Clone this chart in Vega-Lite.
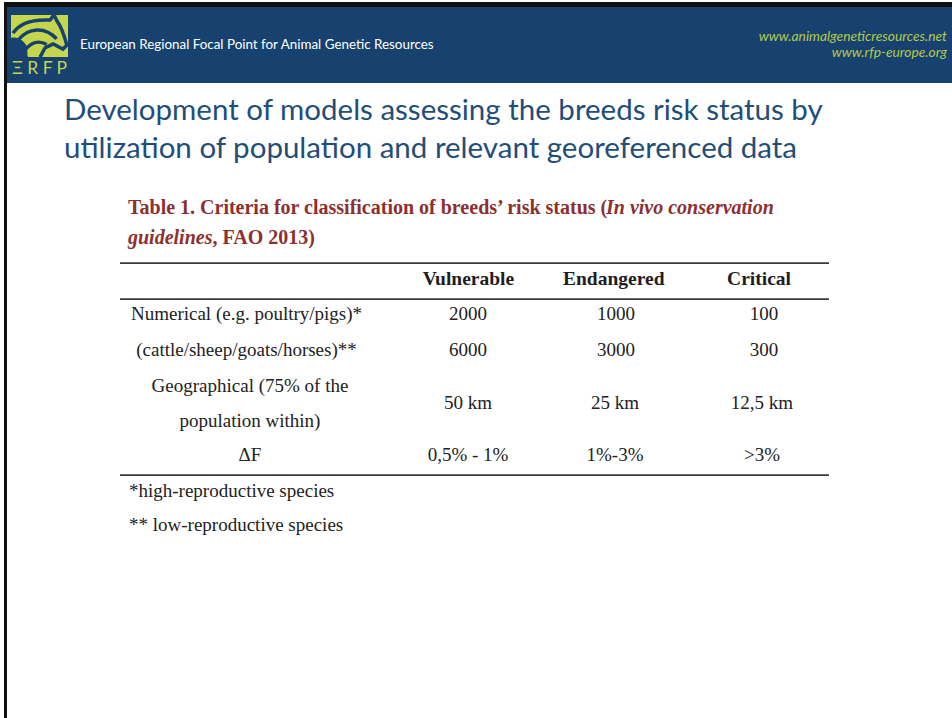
{
  "$schema": "https://vega.github.io/schema/vega-lite/v6.json",
  "width": 952,
  "height": 718,
  "autosize": "none",
  "padding": 0,
  "background": "white",
  "config": {"view": {"stroke": null}, "scale": {"pointPadding": 0}},
  "datasets": {
    "table": [
      {"criterion": "Numerical (e.g. poultry/pigs)*", "status": "Vulnerable", "threshold": "2000"},
      {"criterion": "Numerical (e.g. poultry/pigs)*", "status": "Endangered", "threshold": "1000"},
      {"criterion": "Numerical (e.g. poultry/pigs)*", "status": "Critical", "threshold": "100"},
      {"criterion": "(cattle/sheep/goats/horses)**", "status": "Vulnerable", "threshold": "6000"},
      {"criterion": "(cattle/sheep/goats/horses)**", "status": "Endangered", "threshold": "3000"},
      {"criterion": "(cattle/sheep/goats/horses)**", "status": "Critical", "threshold": "300"},
      {"criterion": "Geographical (75% of the\npopulation within)", "status": "Vulnerable", "threshold": "50 km"},
      {"criterion": "Geographical (75% of the\npopulation within)", "status": "Endangered", "threshold": "25 km"},
      {"criterion": "Geographical (75% of the\npopulation within)", "status": "Critical", "threshold": "12,5 km"},
      {"criterion": "ΔF", "status": "Vulnerable", "threshold": "0,5% - 1%"},
      {"criterion": "ΔF", "status": "Endangered", "threshold": "1%-3%"},
      {"criterion": "ΔF", "status": "Critical", "threshold": ">3%"}
    ]
  },
  "resolve": {"scale": {"x": "independent", "y": "independent"}},
  "layer": [
    {
      "data": {"values": [{"part": "frame"}]},
      "mark": {"type": "rect", "color": "#111111"},
      "encoding": {
        "x": {"field": "part", "type": "nominal", "scale": {"type": "band", "range": [4, 952], "paddingInner": 0, "paddingOuter": 0}, "axis": null},
        "y": {"field": "part", "type": "nominal", "scale": {"type": "band", "range": [2, 718], "paddingInner": 0, "paddingOuter": 0}, "axis": null}
      }
    },
    {
      "data": {"values": [{"part": "page"}]},
      "mark": {"type": "rect", "color": "#ffffff"},
      "encoding": {
        "x": {"field": "part", "type": "nominal", "scale": {"type": "band", "range": [7, 952], "paddingInner": 0, "paddingOuter": 0}, "axis": null},
        "y": {"field": "part", "type": "nominal", "scale": {"type": "band", "range": [83, 718], "paddingInner": 0, "paddingOuter": 0}, "axis": null}
      }
    },
    {
      "data": {"values": [{"part": "banner"}]},
      "mark": {"type": "rect", "color": "#17426f"},
      "encoding": {
        "x": {"field": "part", "type": "nominal", "scale": {"type": "band", "range": [7, 952], "paddingInner": 0, "paddingOuter": 0}, "axis": null},
        "y": {"field": "part", "type": "nominal", "scale": {"type": "band", "range": [7, 83], "paddingInner": 0, "paddingOuter": 0}, "axis": null}
      }
    },
    {
      "data": {"values": [{"part": "logo"}]},
      "mark": {"type": "rect", "color": "#c6d64c"},
      "encoding": {
        "x": {"field": "part", "type": "nominal", "scale": {"type": "band", "range": [11, 68], "paddingInner": 0, "paddingOuter": 0}, "axis": null},
        "y": {"field": "part", "type": "nominal", "scale": {"type": "band", "range": [15, 57], "paddingInner": 0, "paddingOuter": 0}, "axis": null}
      }
    },
    {
      "data": {"values": [{"part": "logo sheep"}]},
      "mark": {"type": "point", "filled": true, "color": "#17426f", "opacity": 1, "size": 3249, "shape": "M-1,0.07 C-0.8,0 -0.55,0.15 -0.45,0.35 C-0.4,0.5 -0.45,0.65 -0.4,0.74 L-1,0.74 Z"},
      "encoding": {
        "x": {"field": "part", "type": "nominal", "scale": {"type": "point", "range": [39.5, 39.5]}, "axis": null},
        "y": {"field": "part", "type": "nominal", "scale": {"type": "point", "range": [36, 36]}, "axis": null}
      }
    },
    {
      "data": {"values": [{"part": "logo horse"}]},
      "mark": {"type": "point", "filled": false, "color": "#17426f", "opacity": 1, "strokeWidth": 3.5, "size": 3249, "shape": "M-0.93,-0.1 C-0.7,-0.45 -0.3,-0.6 0.37,-0.56 L0.51,-0.74 L0.61,-0.53 C0.75,-0.35 0.9,0.1 0.96,0.32 L0.82,0.46 C0.7,0.4 0.55,0.3 0.47,0.28 C0.35,0.35 0.2,0.4 0.19,0.42 L0.02,0.74 M-0.75,0.14 C-0.4,-0.3 0.2,-0.35 0.6,0.1 M-0.55,0.55 C-0.3,0.2 0.0,0.15 0.25,0.3"},
      "encoding": {
        "x": {"field": "part", "type": "nominal", "scale": {"type": "point", "range": [39.5, 39.5]}, "axis": null},
        "y": {"field": "part", "type": "nominal", "scale": {"type": "point", "range": [36, 36]}, "axis": null}
      }
    },
    {
      "data": {"values": [{"brand": "Ξ R F P"}]},
      "mark": {"type": "text", "font": "Lato", "fontSize": 17.5, "color": "#c6d64c", "align": "center", "baseline": "middle"},
      "encoding": {
        "x": {"field": "brand", "type": "nominal", "scale": {"type": "point", "range": [39.5, 39.5]}, "axis": null},
        "y": {"field": "brand", "type": "nominal", "scale": {"type": "point", "range": [68.5, 68.5]}, "axis": null},
        "text": {"field": "brand"}
      }
    },
    {
      "data": {"values": [{"organisation": "European Regional Focal Point for Animal Genetic Resources"}]},
      "mark": {"type": "text", "font": "Lato", "fontSize": 13.4, "color": "#ffffff", "align": "left", "baseline": "middle"},
      "encoding": {
        "x": {"field": "organisation", "type": "nominal", "scale": {"type": "point", "range": [80, 80]}, "axis": null},
        "y": {"field": "organisation", "type": "nominal", "scale": {"type": "point", "range": [45, 45]}, "axis": null},
        "text": {"field": "organisation"}
      }
    },
    {
      "data": {"values": [{"site": "www.animalgeneticresources.net"}, {"site": "www.rfp-europe.org"}]},
      "mark": {"type": "text", "font": "Lato", "fontSize": 13.8, "fontStyle": "italic", "color": "#b5c94b", "align": "right", "baseline": "middle"},
      "encoding": {
        "x": {"field": "site", "type": "nominal", "scale": {"type": "point", "range": [947, 947]}, "axis": null},
        "y": {"field": "site", "type": "nominal", "scale": {"type": "point", "domain": ["www.animalgeneticresources.net", "www.rfp-europe.org"], "range": [37, 53]}, "axis": null},
        "text": {"field": "site"}
      }
    },
    {
      "data": {"values": [{"heading": "Development of models assessing the breeds risk status by\nutilization of population and relevant georeferenced data"}]},
      "mark": {"type": "text", "font": "Lato", "fontSize": 29.5, "color": "#1f4e79", "align": "left", "baseline": "middle", "lineBreak": "\n", "lineHeight": 38.5},
      "encoding": {
        "x": {"field": "heading", "type": "nominal", "scale": {"type": "point", "range": [64, 64]}, "axis": null},
        "y": {"field": "heading", "type": "nominal", "scale": {"type": "point", "range": [110.5, 110.5]}, "axis": null},
        "text": {"field": "heading"}
      }
    },
    {
      "data": {"values": [{"caption": "Table 1. Criteria for classification of breeds’ risk status ("}, {"caption": ", FAO 2013)"}]},
      "mark": {"type": "text", "font": "Liberation Serif", "fontSize": 20, "fontWeight": "bold", "color": "#8c3030", "align": "left", "baseline": "middle"},
      "encoding": {
        "x": {"field": "caption", "type": "nominal", "scale": {"type": "point", "domain": ["Table 1. Criteria for classification of breeds’ risk status (", ", FAO 2013)"], "range": [128, 212.5]}, "axis": null},
        "y": {"field": "caption", "type": "nominal", "scale": {"type": "point", "domain": ["Table 1. Criteria for classification of breeds’ risk status (", ", FAO 2013)"], "range": [208, 238]}, "axis": null},
        "text": {"field": "caption"}
      }
    },
    {
      "data": {"values": [{"caption": "In vivo conservation"}, {"caption": "guidelines"}]},
      "mark": {"type": "text", "font": "Liberation Serif", "fontSize": 20, "fontWeight": "bold", "fontStyle": "italic", "color": "#8c3030", "align": "left", "baseline": "middle"},
      "encoding": {
        "x": {"field": "caption", "type": "nominal", "scale": {"type": "point", "domain": ["In vivo conservation", "guidelines"], "range": [606, 128]}, "axis": null},
        "y": {"field": "caption", "type": "nominal", "scale": {"type": "point", "domain": ["In vivo conservation", "guidelines"], "range": [208, 238]}, "axis": null},
        "text": {"field": "caption"}
      }
    },
    {
      "data": {"values": [{"rule": "top"}]},
      "mark": {"type": "rect", "color": "#3a3a3a"},
      "encoding": {
        "x": {"field": "rule", "type": "nominal", "scale": {"type": "band", "range": [120, 829], "paddingInner": 0, "paddingOuter": 0}, "axis": null},
        "y": {"field": "rule", "type": "nominal", "scale": {"type": "band", "range": [262.3, 263.9], "paddingInner": 0, "paddingOuter": 0}, "axis": null}
      }
    },
    {
      "data": {"values": [{"rule": "header"}]},
      "mark": {"type": "rect", "color": "#3a3a3a"},
      "encoding": {
        "x": {"field": "rule", "type": "nominal", "scale": {"type": "band", "range": [120, 829], "paddingInner": 0, "paddingOuter": 0}, "axis": null},
        "y": {"field": "rule", "type": "nominal", "scale": {"type": "band", "range": [298.3, 299.9], "paddingInner": 0, "paddingOuter": 0}, "axis": null}
      }
    },
    {
      "data": {"values": [{"rule": "bottom"}]},
      "mark": {"type": "rect", "color": "#3a3a3a"},
      "encoding": {
        "x": {"field": "rule", "type": "nominal", "scale": {"type": "band", "range": [120, 829], "paddingInner": 0, "paddingOuter": 0}, "axis": null},
        "y": {"field": "rule", "type": "nominal", "scale": {"type": "band", "range": [474.3, 475.9], "paddingInner": 0, "paddingOuter": 0}, "axis": null}
      }
    },
    {
      "data": {"name": "table"},
      "transform": [{"aggregate": [{"op": "count", "as": "cells"}], "groupby": ["status"]}],
      "mark": {"type": "text", "font": "Liberation Serif", "fontSize": 19.5, "fontWeight": "bold", "color": "#1e1e1e", "align": "center", "baseline": "middle"},
      "encoding": {
        "x": {"field": "status", "type": "nominal", "scale": {"type": "point", "domain": ["Vulnerable", "Endangered", "Critical"], "range": [468.5, 759]}, "axis": null},
        "y": {"field": "status", "type": "nominal", "scale": {"type": "point", "range": [279, 279]}, "axis": null},
        "text": {"field": "status"}
      }
    },
    {
      "data": {"name": "table"},
      "transform": [{"filter": {"field": "criterion", "oneOf": ["Numerical (e.g. poultry/pigs)*", "(cattle/sheep/goats/horses)**"]}}],
      "mark": {"type": "text", "font": "Liberation Serif", "fontSize": 19, "color": "#222222", "align": "center", "baseline": "middle"},
      "encoding": {
        "x": {"field": "status", "type": "nominal", "scale": {"type": "point", "domain": ["Vulnerable", "Endangered", "Critical"], "range": [468, 764]}, "axis": null},
        "y": {"field": "criterion", "type": "nominal", "scale": {"type": "point", "domain": ["Numerical (e.g. poultry/pigs)*", "(cattle/sheep/goats/horses)**"], "range": [314, 350]}, "axis": null},
        "text": {"field": "threshold"}
      }
    },
    {
      "data": {"name": "table"},
      "transform": [{"filter": {"field": "criterion", "oneOf": ["Geographical (75% of the\npopulation within)", "ΔF"]}}],
      "mark": {"type": "text", "font": "Liberation Serif", "fontSize": 19, "color": "#222222", "align": "center", "baseline": "middle"},
      "encoding": {
        "x": {"field": "status", "type": "nominal", "scale": {"type": "point", "domain": ["Vulnerable", "Endangered", "Critical"], "range": [468, 762]}, "axis": null},
        "y": {"field": "criterion", "type": "nominal", "scale": {"type": "point", "domain": ["Geographical (75% of the\npopulation within)", "ΔF"], "range": [403, 455]}, "axis": null},
        "text": {"field": "threshold"}
      }
    },
    {
      "data": {"name": "table"},
      "transform": [{"filter": {"and": [{"field": "status", "equal": "Vulnerable"}, {"field": "criterion", "oneOf": ["Numerical (e.g. poultry/pigs)*", "(cattle/sheep/goats/horses)**"]}]}}],
      "mark": {"type": "text", "font": "Liberation Serif", "fontSize": 19, "color": "#222222", "align": "center", "baseline": "middle"},
      "encoding": {
        "x": {"field": "criterion", "type": "nominal", "scale": {"type": "point", "range": [246.5, 246.5]}, "axis": null},
        "y": {"field": "criterion", "type": "nominal", "scale": {"type": "point", "domain": ["Numerical (e.g. poultry/pigs)*", "(cattle/sheep/goats/horses)**"], "range": [314, 350]}, "axis": null},
        "text": {"field": "criterion"}
      }
    },
    {
      "data": {"name": "table"},
      "transform": [{"filter": {"and": [{"field": "status", "equal": "Vulnerable"}, {"field": "criterion", "oneOf": ["Geographical (75% of the\npopulation within)", "ΔF"]}]}}],
      "mark": {"type": "text", "font": "Liberation Serif", "fontSize": 19, "color": "#222222", "align": "center", "baseline": "middle", "lineBreak": "\n", "lineHeight": 35},
      "encoding": {
        "x": {"field": "criterion", "type": "nominal", "scale": {"type": "point", "range": [250, 250]}, "axis": null},
        "y": {"field": "criterion", "type": "nominal", "scale": {"type": "point", "domain": ["Geographical (75% of the\npopulation within)", "ΔF"], "range": [385.5, 455]}, "axis": null},
        "text": {"field": "criterion"}
      }
    },
    {
      "data": {"values": [{"note": "*high-reproductive species"}, {"note": "** low-reproductive species"}]},
      "mark": {"type": "text", "font": "Liberation Serif", "fontSize": 19, "color": "#222222", "align": "left", "baseline": "middle"},
      "encoding": {
        "x": {"field": "note", "type": "nominal", "scale": {"type": "point", "range": [129, 129]}, "axis": null},
        "y": {"field": "note", "type": "nominal", "scale": {"type": "point", "domain": ["*high-reproductive species", "** low-reproductive species"], "range": [491, 525]}, "axis": null},
        "text": {"field": "note"}
      }
    }
  ]
}
